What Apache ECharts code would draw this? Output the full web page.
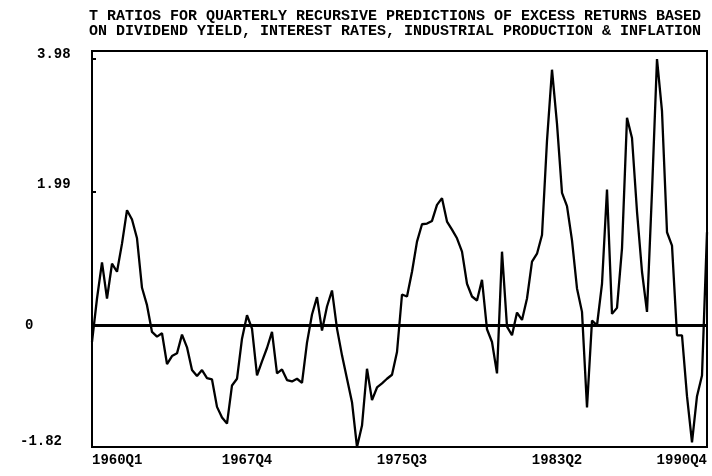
<!DOCTYPE html>
<html>
<head>
<meta charset="utf-8">
<script src="https://cdn.jsdelivr.net/npm/echarts@6/dist/echarts.min.js"></script>
<style>html,body{margin:0;padding:0;background:#fff;}#c{width:712px;height:476px;}</style>
</head>
<body>
<div id="c"></div>
<script>
// Title lines
const titleLines = [
  'T RATIOS FOR QUARTERLY RECURSIVE PREDICTIONS OF EXCESS RETURNS BASED',
  'ON DIVIDEND YIELD, INTEREST RATES, INDUSTRIAL PRODUCTION & INFLATION'
];
// Quarterly categories 1960Q1 .. 1990Q4
const startYear = 1960, endYear = 1990;
const quarters = [];
for (let y = startYear; y <= endYear; y++) for (let q = 1; q <= 4; q++) quarters.push(y + 'Q' + q);
// X tick labels shown
const xTickLabels = ['1960Q1', '1967Q4', '1975Q3', '1983Q2', '1990Q4'];
// Y tick labels shown
const yTickValues = [-1.82, 0, 1.99, 3.98];
const yTickLabels = ['-1.82', '0', '1.99', '3.98'];
// t ratio values, one per quarter
const tRatio = [
  -0.25, 0.40, 0.94, 0.40, 0.92, 0.80, 1.22, 1.72, 1.58, 1.30,
   0.56, 0.30, -0.10, -0.17, -0.12, -0.58, -0.46, -0.42, -0.14, -0.33,
  -0.67, -0.76, -0.67, -0.79, -0.81, -1.22, -1.38, -1.47, -0.90, -0.80,
  -0.20, 0.15, -0.05, -0.75, -0.54, -0.34, -0.10, -0.72, -0.66, -0.82,
  -0.84, -0.80, -0.86, -0.26, 0.16, 0.42, -0.08, 0.28, 0.52, -0.05,
  -0.45, -0.80, -1.15, -1.82, -1.50, -0.65, -1.12, -0.93, -0.87, -0.80,
  -0.74, -0.40, 0.46, 0.43, 0.80, 1.25, 1.51, 1.52, 1.56, 1.80,
   1.90, 1.55, 1.43, 1.30, 1.10, 0.62, 0.43, 0.37, 0.68, -0.06,
  -0.25, -0.72, 1.10, -0.02, -0.15, 0.19, 0.08, 0.40, 0.95, 1.07,
   1.35, 2.76, 3.82, 3.01, 1.98, 1.78, 1.27, 0.55, 0.20, -1.23,
   0.07, 0.00, 0.62, 2.03, 0.17, 0.26, 1.15, 3.10, 2.80, 1.70,
   0.80, 0.20, 2.00, 3.98, 3.20, 1.39, 1.19, -0.15, -0.15, -1.06,
  -1.75, -1.06, -0.75, 1.39
];

const font = '"Liberation Mono", "DejaVu Sans Mono", monospace';
const chart = echarts.init(document.getElementById('c'), null, {renderer: 'canvas'});
const yRich = {
  a: {fontFamily: font, fontWeight: 'bold', fontSize: 14, color: '#000', padding: [0, 0, 12, 0]},
  b: {fontFamily: font, fontWeight: 'bold', fontSize: 14, color: '#000', padding: [0, 0, 0, 5]},
  c: {fontFamily: font, fontWeight: 'bold', fontSize: 14, color: '#000', padding: [0, 0, 16, 17]},
  d: {fontFamily: font, fontWeight: 'bold', fontSize: 14, color: '#000', padding: [0, 0, 10, 17]}
};
const yKeys = ['a', 'b', 'c', 'd'];
chart.setOption({
  animation: false,
  backgroundColor: '#fff',
  title: {
    text: titleLines.join('\n'),
    left: 84, top: 4,
    textStyle: {fontFamily: font, fontWeight: 'bold', fontSize: 15, color: '#000', lineHeight: 15}
  },
  grid: {left: 92, right: 5, top: 51, bottom: 29, show: true, borderColor: '#000', borderWidth: 2, backgroundColor: 'transparent'},
  xAxis: {
    type: 'category',
    data: quarters,
    boundaryGap: false,
    axisLine: {show: true, lineStyle: {color: '#000', width: 2}, onZero: false},
    axisTick: {show: false},
    splitLine: {show: false},
    axisLabel: {
      interval: (i, v) => xTickLabels.indexOf(v) >= 0,
      margin: 6,
      fontFamily: font, fontWeight: 'bold', fontSize: 14, color: '#000',
      alignMinLabel: 'left', alignMaxLabel: 'right'
    }
  },
  yAxis: {
    type: 'value',
    min: -1.82, max: 4.1,
    axisLine: {show: true, lineStyle: {color: '#000', width: 2}},
    axisTick: {show: true, inside: true, length: 4, customValues: yTickValues, lineStyle: {color: '#000', width: 2}},
    splitLine: {show: false},
    axisLabel: {
      customValues: yTickValues,
      align: 'left',
      margin: 72,
      formatter: (v) => {
        const k = yTickValues.findIndex(t => Math.abs(t - v) < 1e-6);
        return k < 0 ? '' : '{' + yKeys[k] + '|' + yTickLabels[k] + '}';
      },
      rich: yRich
    }
  },
  series: [{
    type: 'line',
    data: tRatio,
    symbol: 'none',
    lineStyle: {color: '#000', width: 2.3},
    markLine: {
      silent: true,
      symbol: ['none', 'none'],
      label: {show: false},
      lineStyle: {color: '#000', width: 3, type: 'solid'},
      data: [{yAxis: 0}]
    }
  }]
});
</script>
</body>
</html>
